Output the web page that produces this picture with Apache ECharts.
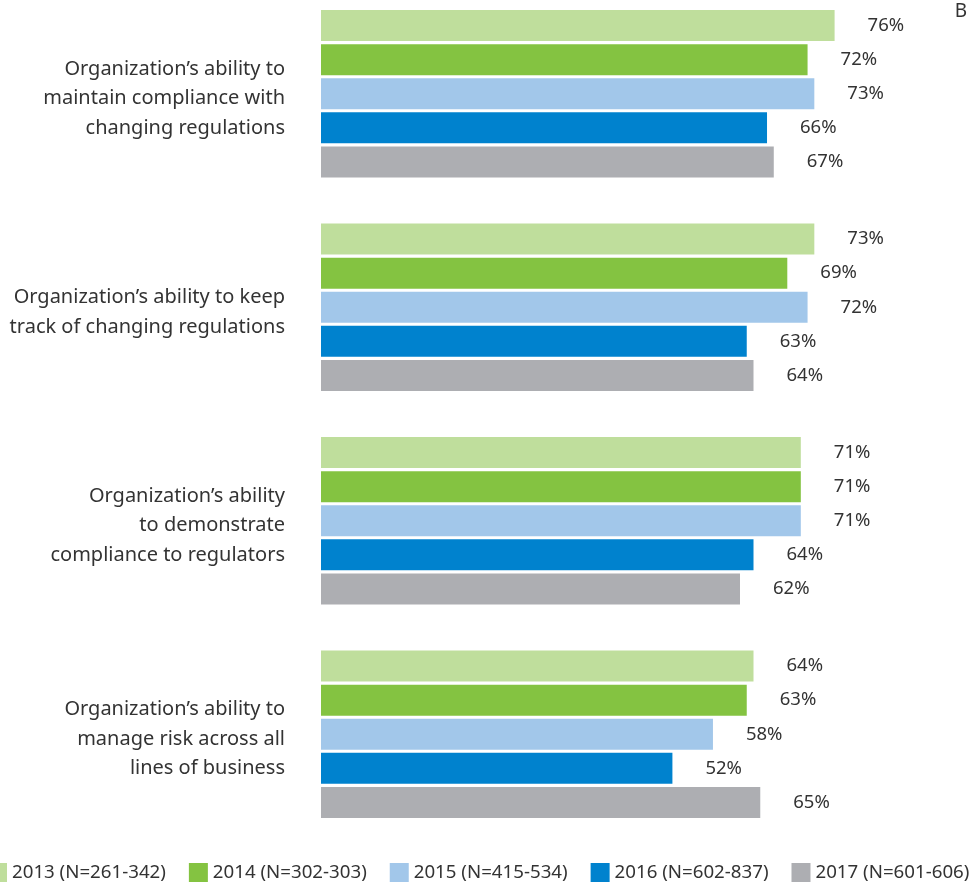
<!DOCTYPE html>
<html>
<head>
<meta charset="utf-8">
<title>Regulatory compliance abilities</title>
<script src="https://cdn.jsdelivr.net/npm/echarts@6/dist/echarts.min.js"></script>
<style>
  html, body { margin: 0; padding: 0; background: #fff; overflow: hidden; }
  /* chart box starts a little above the window so the first band can sit at the top edge */
  #chart { width: 969px; height: 902px; margin-top: -13px; }
</style>
</head>
<body>
<div id="chart"></div>
<script>
const categories = [
  'Organization\u2019s ability to\nmaintain compliance with\nchanging regulations',
  'Organization\u2019s ability to keep\ntrack of changing regulations',
  'Organization\u2019s ability\nto demonstrate\ncompliance to regulators',
  'Organization\u2019s ability to\nmanage risk across all\nlines of business'
]
const seriesNames = ['2013 (N=261-342)', '2014 (N=302-303)', '2015 (N=415-534)', '2016 (N=602-837)', '2017 (N=601-606)']
const colors = ['#bfde9c', '#84c341', '#a2c7ea', '#0082ce', '#adaeb2']
const v2013 = [76, 73, 71, 64]
const v2014 = [72, 69, 71, 63]
const v2015 = [73, 72, 71, 58]
const v2016 = [66, 63, 64, 52]
const v2017 = [67, 64, 62, 65]
const values = [v2013, v2014, v2015, v2016, v2017]

const font = '"Noto Sans", sans-serif'
const chart = echarts.init(document.getElementById('chart'))

chart.setOption({
  animation: false,
  textStyle: { fontFamily: font },
  title: {
    text: 'B',
    right: 0,
    top: 13,
    padding: 2,
    textStyle: { fontFamily: font, fontSize: 19, fontWeight: 'normal', color: '#333' }
  },
  grid: {
    left: 321,
    right: 6,
    top: 0,
    bottom: 48
  },
  legend: {
    data: seriesNames,
    left: -17,
    width: 1010,
    bottom: 2,
    itemWidth: 19,
    itemHeight: 19,
    itemGap: 23,
    icon: 'rect',
    textStyle: { fontFamily: font, fontSize: 18.7, color: '#333' }
  },
  xAxis: {
    type: 'value',
    min: 0,
    max: 95,
    show: false
  },
  yAxis: {
    type: 'category',
    data: categories,
    inverse: true,
    axisLine: { show: false },
    axisTick: { show: false },
    axisLabel: {
      margin: 36,
      fontSize: 20,
      lineHeight: 29.5,
      color: '#333',
      align: 'right',
      // small empty first line nudges the block down a few px
      formatter: v => '{s| }\n' + v,
      rich: {
        s: { fontSize: 2, lineHeight: 10 }
      }
    }
  },
  series: seriesNames.map((name, i) => ({
    name: name,
    type: 'bar',
    data: values[i],
    barWidth: 31,
    barGap: '10%',
    itemStyle: { color: colors[i] },
    label: {
      show: true,
      position: 'right',
      distance: 33,
      formatter: '{c}%',
      fontSize: 18.5,
      color: '#333'
    }
  }))
})
</script>
</body>
</html>
